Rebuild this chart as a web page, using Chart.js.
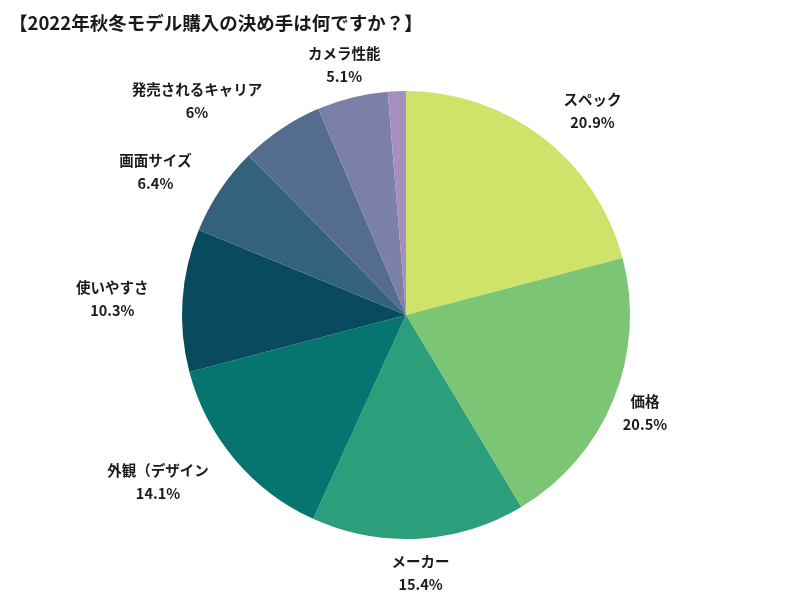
<!DOCTYPE html>
<html>
<head>
<meta charset="utf-8">
<script src="https://cdn.jsdelivr.net/npm/chart.js@4/dist/chart.umd.min.js"></script>
<style>
  body { margin: 0; background: #fff; }
  #wrap { width: 800px; height: 600px; }
</style>
</head>
<body>
<div id="wrap"><canvas id="pie-chart" width="800" height="600"></canvas></div>
<script>
const titleText = "【2022年秋冬モデル購入の決め手は何ですか？】";
const labels = ["スペック", "価格", "メーカー", "外観（デザイン", "使いやすさ", "画面サイズ", "発売されるキャリア", "カメラ性能", ""];
const values = [20.9, 20.5, 15.4, 14.1, 10.3, 6.4, 6, 5.1, 1.3];
const colors = ["#cfe36a", "#7bc574", "#2c9e7b", "#06756f", "#084b5f",
                "#34627c", "#546c90", "#7c80a8", "#a68ebf"];

const fontFamily = "'Noto Sans CJK JP', 'Noto Sans', sans-serif";

// draws the title and the outside labels
const outsideLabels = {
    id: "outsideLabels",
    afterDraw(chart) {
        const ctx = chart.ctx;
        ctx.save();
        ctx.fillStyle = "#1a1a1a";
        ctx.font = "bold 18.5px " + fontFamily;
        ctx.textAlign = "left";
        ctx.textBaseline = "middle";
        ctx.fillText(titleText, 9, 23);

        ctx.font = "bold 14.5px " + fontFamily;
        ctx.textAlign = "center";
        const meta = chart.getDatasetMeta(0);
        meta.data.forEach((arc, i) => {
            if (!labels[i]) return;
            const mid = (arc.startAngle + arc.endAngle) / 2;
            const s = Math.cos(mid);
            const c = Math.sin(mid);
            const pct = values[i] + "%";
            const w = Math.max(ctx.measureText(labels[i]).width, ctx.measureText(pct).width);
            // push wide labels sideways only on the left/right of the pie
            let f = Math.min(1, Math.max(0, (Math.abs(s) - 0.25) / 0.3));
            if (s > 0.9) f = 0;
            const x = arc.x + 258 * s + Math.sign(s) * (w / 2) * f;
            const y = arc.y + 258 * c;
            ctx.fillText(labels[i], x, y - 11);
            ctx.fillText(pct, x, y + 12);
        });
        ctx.restore();
    }
};

new Chart(document.getElementById("pie-chart"), {
    type: "pie",
    data: {
        labels: labels,
        datasets: [{
            data: values,
            backgroundColor: colors,
            borderWidth: 0
        }]
    },
    options: {
        responsive: false,
        animation: false,
        layout: {
            padding: { left: 182, right: 170, top: 91, bottom: 61 }
        },
        plugins: {
            legend: { display: false },
            tooltip: { enabled: false }
        }
    },
    plugins: [outsideLabels]
});
</script>
</body>
</html>
